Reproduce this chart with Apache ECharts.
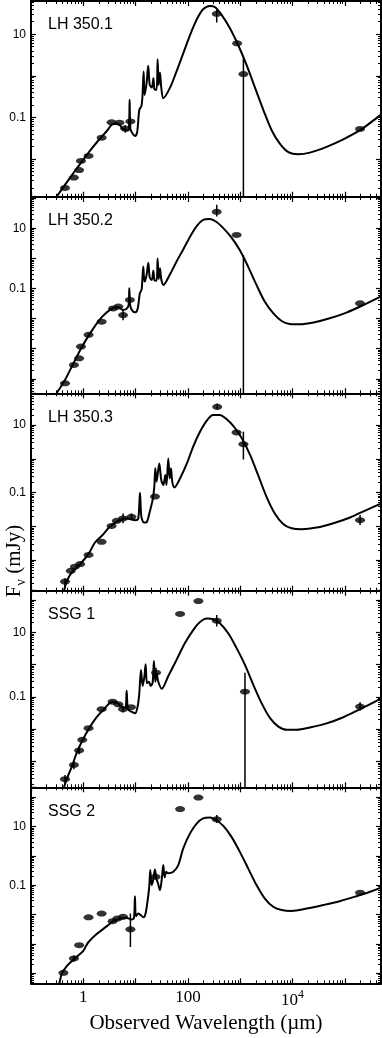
<!DOCTYPE html>
<html>
<head>
<meta charset="utf-8">
<script src="https://cdn.jsdelivr.net/npm/echarts@6/dist/echarts.min.js"></script>
<style>
html, body { margin: 0; padding: 0; background: #fff; }
#chart { width: 382px; height: 1038px; }
</style>
</head>
<body>
<div id="chart"></div>
<script>
// 波长轴 (µm)，五个面板共用
const xMin = 0.1;
const xMax = 4.9e5;
const xTickText = { 1: '1', 100: '100', 10000: '10{sup|4}' };
const yTickText = { 10: '10', 0.1: '0.1' };

const panelNames = ['LH 350.1', 'LH 350.2', 'LH 350.3', 'SSG 1', 'SSG 2'];
// 每个面板的 y 范围 (mJy)
const yMins = [1.23e-3, 3.3e-5, 1.23e-4, 1.58e-4, 4.6e-5];
const yMaxs = [63, 110, 87, 195, 219];

// 读图得到的数值，均为 [log10 λ(µm), log10 Fν(mJy)]
// 误差棒为 [log10 λ, log10 下限, log10 上限]
const sed1 = [[-0.57,-3.03],[-0.51,-2.91],[-0.32,-2.57],[-0.06,-2.12],[0.13,-1.80],[0.32,-1.51],[0.45,-1.33],[0.57,-1.16],[0.67,-1.16],[0.75,-1.27],[0.83,-1.32],[0.87,-1.29],[0.885,-0.58],[0.90,-1.27],[0.94,-1.39],[0.99,-1.45],[1.03,-1.35],[1.07,-0.82],[1.11,-0.73],[1.13,-0.50],[1.153,0.10],[1.17,-0.46],[1.21,-0.17],[1.24,0.24],[1.27,-0.22],[1.31,-0.28],[1.34,-0.06],[1.36,-0.33],[1.40,-0.34],[1.42,0.40],[1.44,-0.22],[1.465,0.08],[1.49,-0.28],[1.53,-0.54],[1.66,-0.28],[1.78,0.10],[1.91,0.54],[2.04,0.98],[2.17,1.36],[2.29,1.60],[2.42,1.68],[2.52,1.65],[2.64,1.47],[2.80,1.15],[2.96,0.74],[3.12,0.26],[3.28,-0.28],[3.44,-0.82],[3.60,-1.31],[3.76,-1.64],[3.92,-1.84],[4.11,-1.89],[4.33,-1.85],[4.65,-1.71],[4.97,-1.53],[5.29,-1.31],[5.54,-1.08],[5.70,-0.92]];
const phot1 = [[-0.35,-2.70],[-0.18,-2.45],[-0.08,-2.27],[-0.045,-2.05],[0.10,-1.93],[0.35,-1.49],[0.54,-1.12],[0.69,-1.13],[0.80,-1.27],[0.90,-1.10],[2.55,1.49],[2.94,0.78],[3.06,0.04],[5.29,-1.28]];
const err1 = [[0.80,-1.37,-1.19],[2.55,1.28,1.59],[3.06,-6,0.42]];

const sed2 = [[-0.57,-4.68],[-0.51,-4.48],[-0.35,-4.04],[-0.19,-3.49],[-0.03,-2.95],[0.13,-2.49],[0.32,-2.02],[0.45,-1.79],[0.57,-1.64],[0.67,-1.61],[0.75,-1.71],[0.815,-1.69],[0.866,-1.55],[0.879,-0.99],[0.898,-1.58],[0.94,-1.74],[0.99,-1.79],[1.04,-1.66],[1.08,-1.16],[1.115,-1.03],[1.146,-0.27],[1.17,-0.77],[1.21,-0.55],[1.242,-0.14],[1.27,-0.63],[1.31,-0.72],[1.338,-0.41],[1.36,-0.72],[1.40,-0.74],[1.42,0.0],[1.44,-0.68],[1.465,-0.33],[1.49,-0.69],[1.53,-0.88],[1.66,-0.52],[1.78,-0.11],[1.91,0.30],[2.04,0.72],[2.17,1.08],[2.29,1.28],[2.42,1.31],[2.54,1.22],[2.68,1.0],[2.83,0.70],[2.99,0.28],[3.15,-0.27],[3.31,-0.88],[3.47,-1.44],[3.63,-1.82],[3.79,-2.08],[3.95,-2.18],[4.14,-2.19],[4.40,-2.13],[4.71,-1.99],[5.03,-1.80],[5.35,-1.55],[5.70,-1.25]];
const phot2 = [[-0.35,-4.15],[-0.18,-3.54],[-0.08,-3.32],[-0.045,-2.93],[0.10,-2.54],[0.35,-2.10],[0.57,-1.66],[0.67,-1.60],[0.76,-1.88],[0.89,-1.38],[2.55,1.55],[2.93,0.78],[5.29,-1.49]];
const err2 = [[0.76,-2.05,-1.71],[2.55,1.39,1.78],[3.06,-6,0.11]];

const sed3 = [[-0.45,-4.24],[-0.37,-3.91],[-0.32,-3.64],[-0.22,-3.37],[-0.06,-3.12],[0.10,-2.82],[0.22,-2.49],[0.35,-2.29],[0.51,-2.01],[0.67,-1.84],[0.83,-1.77],[0.99,-1.82],[1.05,-1.77],[1.083,-1.01],[1.11,-1.72],[1.16,-1.89],[1.21,-1.88],[1.27,-1.57],[1.325,-1.22],[1.357,-0.83],[1.376,-0.28],[1.40,-0.68],[1.452,-0.14],[1.49,-0.63],[1.53,-0.78],[1.567,-0.48],[1.59,-0.78],[1.624,0.01],[1.65,-0.58],[1.675,-0.28],[1.70,-0.68],[1.74,-0.85],[1.85,-0.58],[1.98,-0.14],[2.10,0.36],[2.23,0.80],[2.36,1.13],[2.48,1.30],[2.61,1.30],[2.74,1.17],[2.87,0.97],[3.03,0.61],[3.19,0.11],[3.34,-0.48],[3.50,-1.12],[3.66,-1.62],[3.82,-1.93],[3.98,-2.06],[4.17,-2.09],[4.46,-2.04],[4.78,-1.91],[5.10,-1.74],[5.41,-1.52],[5.70,-1.32]];
const phot3 = [[-0.35,-3.64],[-0.24,-3.32],[-0.16,-3.20],[-0.06,-3.12],[0.10,-2.85],[0.35,-2.46],[0.54,-1.99],[0.64,-1.84],[0.76,-1.77],[0.92,-1.72],[1.37,-1.12],[2.56,1.54],[2.93,0.78],[3.06,0.43],[5.29,-1.82]];
const err3 = [[-0.35,-3.79,-3.54],[0.76,-1.91,-1.62],[0.92,-1.82,-1.62],[2.56,1.45,1.64],[3.06,-0.02,0.80],[5.29,-1.96,-1.67]];

const sed4 = [[-0.43,-4.09],[-0.37,-3.80],[-0.31,-3.52],[-0.22,-3.16],[-0.13,-2.75],[-0.03,-2.39],[0.10,-2.00],[0.255,-1.63],[0.41,-1.35],[0.54,-1.16],[0.62,-1.15],[0.71,-1.28],[0.80,-1.35],[0.828,-0.81],[0.854,-1.38],[0.92,-1.46],[0.99,-1.51],[1.04,-1.28],[1.07,-0.89],[1.102,-0.17],[1.134,-0.66],[1.166,-0.39],[1.191,0.01],[1.217,-0.58],[1.255,-0.53],[1.287,-0.66],[1.325,-0.56],[1.35,0.11],[1.376,-0.53],[1.40,-0.27],[1.433,-0.53],[1.50,-0.75],[1.62,-0.37],[1.78,0.14],[1.94,0.66],[2.10,1.07],[2.23,1.32],[2.36,1.43],[2.48,1.41],[2.61,1.28],[2.77,0.97],[2.93,0.51],[3.09,-0.01],[3.25,-0.63],[3.41,-1.20],[3.57,-1.66],[3.73,-1.92],[3.89,-2.02],[4.08,-2.02],[4.33,-1.95],[4.65,-1.82],[4.97,-1.63],[5.29,-1.38],[5.54,-1.18],[5.70,-1.04]];
const phot4 = [[-0.35,-3.55],[-0.18,-3.11],[-0.08,-2.66],[-0.02,-2.33],[0.10,-1.97],[0.35,-1.38],[0.56,-1.15],[0.67,-1.23],[0.76,-1.38],[0.91,-1.32],[1.39,-0.25],[1.85,1.57],[2.20,1.97],[2.55,1.36],[3.09,-0.84],[5.29,-1.30]];
const err4 = [[-0.35,-3.68,-3.42],[-0.18,-3.24,-2.98],[-0.08,-2.78,-2.54],[0.76,-1.48,-1.28],[1.39,-0.40,-0.10],[2.55,1.18,1.54],[3.09,-6,-0.25],[5.29,-1.43,-1.17]];

const sed5 = [[-0.50,-4.69],[-0.46,-4.35],[-0.41,-4.01],[-0.32,-3.76],[-0.16,-3.49],[0.0,-3.23],[0.05,-3.07],[0.10,-2.93],[0.255,-2.66],[0.45,-2.39],[0.57,-2.22],[0.70,-2.14],[0.83,-2.11],[0.92,-2.16],[0.968,-2.11],[0.987,-1.37],[1.006,-2.05],[1.05,-1.96],[1.10,-2.02],[1.15,-2.09],[1.19,-1.96],[1.23,-1.50],[1.26,-1.05],[1.28,-0.48],[1.306,-0.99],[1.338,-0.80],[1.369,-0.46],[1.395,-0.76],[1.427,-0.93],[1.465,-1.16],[1.503,-0.73],[1.529,-0.31],[1.554,-0.73],[1.586,-0.54],[1.62,-0.59],[1.72,-0.54],[1.815,-0.31],[1.91,0.26],[2.04,0.77],[2.17,1.11],[2.29,1.28],[2.42,1.31],[2.55,1.21],[2.68,1.02],[2.83,0.66],[2.99,0.15],[3.15,-0.42],[3.31,-0.99],[3.47,-1.45],[3.63,-1.73],[3.79,-1.84],[3.98,-1.87],[4.27,-1.79],[4.59,-1.67],[4.90,-1.54],[5.22,-1.37],[5.48,-1.22],[5.70,-1.07]];
const phot5 = [[-0.38,-3.98],[-0.18,-3.49],[-0.08,-3.04],[0.10,-2.09],[0.35,-1.96],[0.56,-2.22],[0.65,-2.13],[0.76,-2.07],[0.90,-2.50],[1.38,-0.71],[1.85,1.60],[2.20,1.99],[2.55,1.25],[5.29,-1.25]];
const err5 = [[-0.18,-3.60,-3.39],[0.90,-3.10,-1.96],[2.55,1.12,1.40]];

const sedList = [sed1, sed2, sed3, sed4, sed5];
const photList = [phot1, phot2, phot3, phot4, phot5];
const errList = [err1, err2, err3, err4, err5];

// 面板位置
const tops = [1, 197, 393.3, 590.7, 787.3];
const heights = [195.7, 196.3, 197.4, 196.6, 196];

const black = '#000';
const serif = '"Liberation Serif", "Times New Roman", serif';
const sans = '"Liberation Sans", Arial, sans-serif';

// log10 -> 线性
const toLin = arr => arr.map(p => p.map(v => Math.pow(10, v)));
const pick = (table, v) => {
  for (const k in table) {
    if (Math.abs(Math.log10(v) - Math.log10(+k)) < 1e-6) return table[k];
  }
  return '';
};

const axisLine = { show: true, onZero: false, lineStyle: { color: black, width: 2 } };
const axisTick = { show: true, inside: true, length: 5, lineStyle: { color: black, width: 1.2 } };
const minorTick = { show: true, splitNumber: 9, length: 3, lineStyle: { color: black, width: 1 } };

const grid = [];
const xAxis = [];
const yAxis = [];
const series = [];
const graphic = [];

panelNames.forEach((name, i) => {
  const last = i === panelNames.length - 1;
  grid.push({ left: 31, right: 1, top: tops[i], height: heights[i], outerBoundsMode: 'none' });

  const xBase = {
    type: 'log', logBase: 10, gridIndex: i, min: xMin, max: xMax,
    axisLine, axisTick, minorTick,
    splitLine: { show: false }, minorSplitLine: { show: false },
  };
  xAxis.push(Object.assign({}, xBase, {
    position: 'bottom',
    axisLabel: last ? {
      show: true, margin: 6, color: black, fontFamily: serif, fontSize: 17,
      formatter: v => pick(xTickText, v),
      rich: { sup: { fontFamily: serif, fontSize: 12, padding: [0, 0, 10, 0], color: black } },
    } : { show: false },
    name: last ? 'Observed Wavelength (µm)' : '',
    nameLocation: 'middle', nameGap: 30,
    nameTextStyle: { color: black, fontFamily: serif, fontSize: 21 },
  }));
  xAxis.push(Object.assign({}, xBase, { position: 'top', axisLabel: { show: false } }));

  const yBase = {
    type: 'log', logBase: 10, gridIndex: i, min: yMins[i], max: yMaxs[i],
    axisLine, axisTick, minorTick,
    splitLine: { show: false }, minorSplitLine: { show: false },
  };
  yAxis.push(Object.assign({}, yBase, {
    position: 'left',
    axisLabel: {
      show: true, margin: 5, color: black, fontFamily: sans, fontSize: 12,
      formatter: v => pick(yTickText, v),
    },
  }));
  yAxis.push(Object.assign({}, yBase, { position: 'right', axisLabel: { show: false } }));

  // 模型曲线
  series.push({
    type: 'line', xAxisIndex: 2 * i, yAxisIndex: 2 * i,
    data: toLin(sedList[i]), showSymbol: false, smooth: 0.3, clip: true, silent: true,
    lineStyle: { color: black, width: 2 }, z: 2,
  });
  // 误差棒
  series.push({
    type: 'custom', xAxisIndex: 2 * i, yAxisIndex: 2 * i,
    data: toLin(errList[i]), clip: true, silent: true, z: 3,
    renderItem: (params, api) => {
      const a = api.coord([api.value(0), api.value(1)]);
      const b = api.coord([api.value(0), api.value(2)]);
      return {
        type: 'line',
        shape: { x1: a[0], y1: a[1], x2: b[0], y2: b[1] },
        style: { stroke: black, lineWidth: 1.5 },
      };
    },
  });
  // 测光点
  series.push({
    type: 'scatter', xAxisIndex: 2 * i, yAxisIndex: 2 * i,
    data: toLin(photList[i]), symbol: 'circle', symbolSize: [10, 6], clip: true, silent: true,
    itemStyle: { color: black }, z: 4,
  });

  graphic.push({
    type: 'text', left: 48, top: tops[i] + 16,
    style: { text: name, font: '16px ' + sans, fill: black },
  });
});

// y 轴标题
graphic.push({
  type: 'text', x: 14, y: 561, rotation: Math.PI / 2,
  style: {
    text: '{f|F}{s|ν}{f| (mJy)}',
    align: 'center', verticalAlign: 'middle', fill: black,
    rich: {
      f: { fontFamily: serif, fontSize: 21, fill: black },
      s: { fontFamily: serif, fontSize: 14, padding: [14, 0, 0, 0], fill: black },
    },
  },
});

const chart = echarts.init(document.getElementById('chart'), null, { renderer: 'canvas' });
chart.setOption({
  animation: false,
  backgroundColor: '#fff',
  grid, xAxis, yAxis, series, graphic,
});
</script>
</body>
</html>
